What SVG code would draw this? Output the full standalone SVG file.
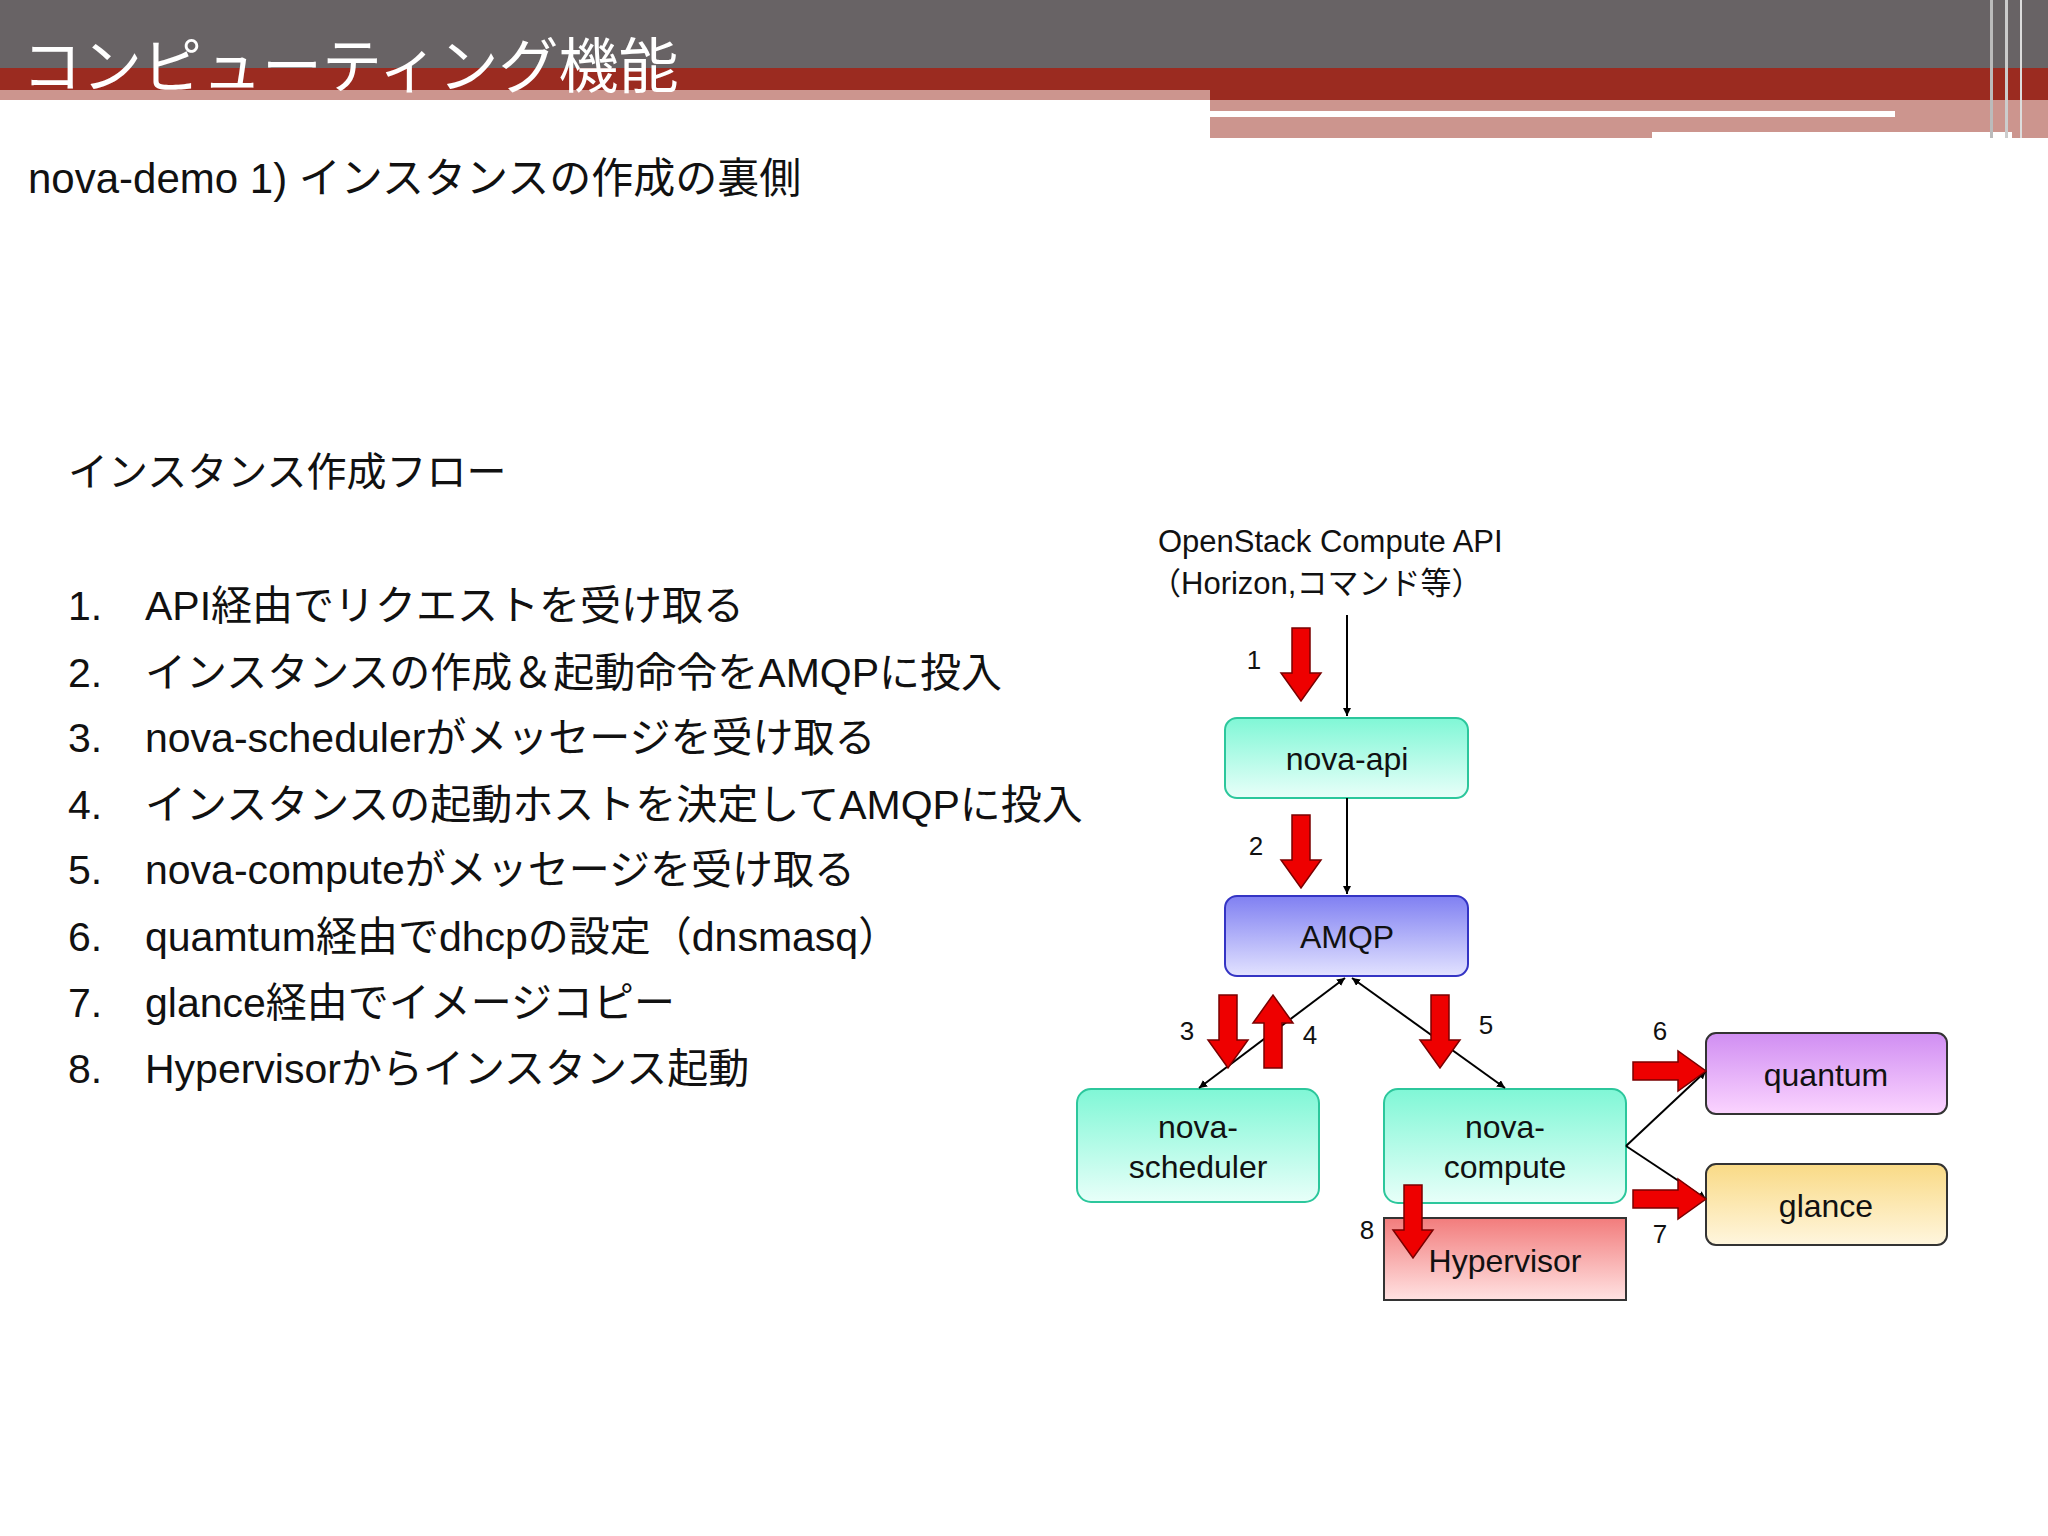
<svg xmlns="http://www.w3.org/2000/svg" xmlns:xlink="http://www.w3.org/1999/xlink" width="2048" height="1536" viewBox="0 0 2048 1536">
<style>
.t{font-family:"Liberation Sans","Noto Sans CJK JP",sans-serif;fill:#111}
.n{font-family:"Liberation Sans","Noto Sans CJK JP",sans-serif;font-size:32px;fill:#111;text-anchor:middle}
.num{font-family:"Liberation Sans",sans-serif;font-size:26px;fill:#111;text-anchor:middle}
.ln{stroke:#000;stroke-width:2;fill:none}
.ra{fill:#ee0000;stroke:#7a0000;stroke-width:1.5}
</style>
<defs>
<linearGradient id="gG" x1="0" y1="0" x2="0" y2="1"><stop offset="0" stop-color="#80f7d6"/><stop offset="1" stop-color="#e8fff9"/></linearGradient>
<linearGradient id="gB" x1="0" y1="0" x2="0" y2="1"><stop offset="0" stop-color="#8080f2"/><stop offset="1" stop-color="#e2e2ff"/></linearGradient>
<linearGradient id="gP" x1="0" y1="0" x2="0" y2="1"><stop offset="0" stop-color="#d08ef2"/><stop offset="1" stop-color="#fbd4ff"/></linearGradient>
<linearGradient id="gY" x1="0" y1="0" x2="0" y2="1"><stop offset="0" stop-color="#f9da86"/><stop offset="1" stop-color="#fff6de"/></linearGradient>
<linearGradient id="gR" x1="0" y1="0" x2="0" y2="1"><stop offset="0" stop-color="#f27c7c"/><stop offset="1" stop-color="#ffe2e2"/></linearGradient>
<marker id="ah" viewBox="0 0 10 10" refX="10" refY="5" markerWidth="8" markerHeight="8" orient="auto-start-reverse" markerUnits="userSpaceOnUse"><path d="M0,0 L10,5 L0,10 Z" fill="#000"/></marker>
<path id="rd" d="M-9,0 H9 V45 H20 L0,73 L-20,45 H-9 Z"/>
</defs>
<g id="header">
<rect x="0" y="0" width="2048" height="68" fill="#686365"/>
<rect x="0" y="68" width="2048" height="32" fill="#9b2b20"/>
<rect x="0" y="90" width="1210" height="10" fill="#cc958e"/>
<rect x="1210" y="100" width="838" height="38" fill="#cc958e"/>
<rect x="1210" y="111" width="685" height="6" fill="#ffffff"/>
<rect x="1652" y="132" width="360" height="8" fill="#ffffff"/>
<rect x="1990" y="0" width="3" height="138" fill="#bbbbbb"/>
<rect x="2005" y="0" width="3" height="138" fill="#cccccc"/>
<rect x="2020" y="0" width="2" height="138" fill="#dddddd"/>
<text x="22" y="88" class="t" font-size="60" style="fill:#fff">コンピューティング機能</text>
</g>
<text x="28" y="193" class="t" font-size="42">nova-demo 1) インスタンスの作成の裏側</text>
<text x="68" y="486" class="t" font-size="40">インスタンス作成フロー</text>
<g class="t" font-size="41">
<text x="68" y="620">1.</text><text x="145" y="620">API経由でリクエストを受け取る</text>
<text x="68" y="687">2.</text><text x="145" y="687">インスタンスの作成＆起動命令をAMQPに投入</text>
<text x="68" y="752">3.</text><text x="145" y="752">nova-schedulerがメッセージを受け取る</text>
<text x="68" y="819">4.</text><text x="145" y="819">インスタンスの起動ホストを決定してAMQPに投入</text>
<text x="68" y="884">5.</text><text x="145" y="884">nova-computeがメッセージを受け取る</text>
<text x="68" y="951">6.</text><text x="145" y="951">quamtum経由でdhcpの設定（dnsmasq）</text>
<text x="68" y="1017">7.</text><text x="145" y="1017">glance経由でイメージコピー</text>
<text x="68" y="1083">8.</text><text x="145" y="1083">Hypervisorからインスタンス起動</text>
</g>
<text x="1158" y="552" class="t" font-size="31">OpenStack Compute API</text>
<text x="1150" y="594" class="t" font-size="31">（Horizon,コマンド等）</text>
<g id="nova-api"><rect x="1225" y="718" width="243" height="80" rx="12" fill="url(#gG)" stroke="#2cc79c" stroke-width="2"/><text x="1347" y="770" class="n">nova-api</text></g>
<g id="amqp"><rect x="1225" y="896" width="243" height="80" rx="12" fill="url(#gB)" stroke="#3434c4" stroke-width="2"/><text x="1347" y="948" class="n">AMQP</text></g>
<g id="nova-scheduler"><rect x="1077" y="1089" width="242" height="113" rx="14" fill="url(#gG)" stroke="#2cc79c" stroke-width="2"/><text x="1198" y="1138" class="n">nova-</text><text x="1198" y="1178" class="n">scheduler</text></g>
<g id="nova-compute"><rect x="1384" y="1089" width="242" height="114" rx="14" fill="url(#gG)" stroke="#2cc79c" stroke-width="2"/><text x="1505" y="1138" class="n">nova-</text><text x="1505" y="1178" class="n">compute</text></g>
<g id="hypervisor"><rect x="1384" y="1218" width="242" height="82" fill="url(#gR)" stroke="#333" stroke-width="2"/><text x="1505" y="1272" class="n">Hypervisor</text></g>
<g id="quantum"><rect x="1706" y="1033" width="241" height="81" rx="10" fill="url(#gP)" stroke="#333" stroke-width="2"/><text x="1826" y="1086" class="n">quantum</text></g>
<g id="glance"><rect x="1706" y="1164" width="241" height="81" rx="10" fill="url(#gY)" stroke="#333" stroke-width="2"/><text x="1826" y="1217" class="n">glance</text></g>
<g id="connectors">
<line class="ln" x1="1347" y1="615" x2="1347" y2="716" marker-end="url(#ah)"/>
<line class="ln" x1="1347" y1="798" x2="1347" y2="894" marker-end="url(#ah)"/>
<line class="ln" x1="1345" y1="978" x2="1199" y2="1088" marker-start="url(#ah)" marker-end="url(#ah)"/>
<line class="ln" x1="1352" y1="978" x2="1505" y2="1088" marker-start="url(#ah)" marker-end="url(#ah)"/>
<line class="ln" x1="1626" y1="1146" x2="1706" y2="1071" marker-end="url(#ah)"/>
<line class="ln" x1="1626" y1="1146" x2="1706" y2="1199" marker-end="url(#ah)"/>
<use href="#rd" class="ra" transform="translate(1301,628)"/>
<use href="#rd" class="ra" transform="translate(1301,815)"/>
<use href="#rd" class="ra" transform="translate(1228,995)"/>
<use href="#rd" class="ra" transform="translate(1273,1068) rotate(180)"/>
<use href="#rd" class="ra" transform="translate(1440,995)"/>
<use href="#rd" class="ra" transform="translate(1633,1071) rotate(-90)"/>
<use href="#rd" class="ra" transform="translate(1633,1199) rotate(-90)"/>
<use href="#rd" class="ra" transform="translate(1413,1185)"/>
<text x="1254" y="669" class="num">1</text>
<text x="1256" y="855" class="num">2</text>
<text x="1187" y="1040" class="num">3</text>
<text x="1310" y="1044" class="num">4</text>
<text x="1486" y="1034" class="num">5</text>
<text x="1660" y="1040" class="num">6</text>
<text x="1660" y="1243" class="num">7</text>
<text x="1367" y="1239" class="num">8</text>
</g>
</svg>
